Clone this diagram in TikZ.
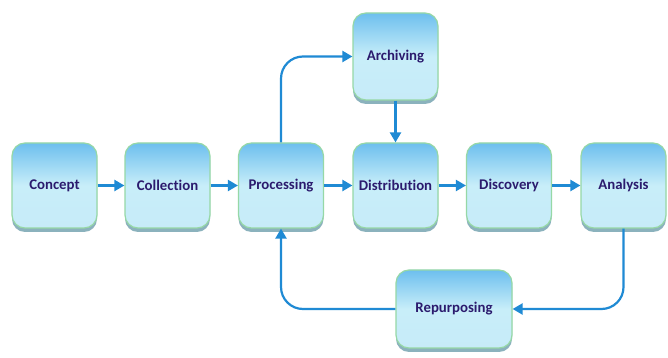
\documentclass[tikz,border=0pt]{standalone}
\usepackage{fontspec}
\setmainfont[Ligatures=NoCommon]{Carlito}
\usetikzlibrary{arrows.meta,shadows,shadings}

\definecolor{boxtop}{HTML}{6DBFEE}
\definecolor{boxmid}{HTML}{C8EEF9}
\definecolor{boxlow}{HTML}{DDF6FB}
\definecolor{boxedge}{HTML}{96D8A6}
\definecolor{boxshade}{HTML}{2D7488}
\definecolor{stagetext}{HTML}{2B1B6E}
\definecolor{flowblue}{HTML}{1F8AD4}

\tikzset{
  stage/.style={rounded corners=13pt, draw=boxedge, line width=1.2pt,
    top color=boxtop, bottom color=boxlow!80!boxtop, middle color=boxmid,
    drop shadow={shadow xshift=0pt, shadow yshift=-4pt, fill=boxshade, opacity=0.55},
    minimum width=85pt, minimum height=85pt, inner sep=0pt,
    font=\fontsize{14.8}{16}\selectfont\bfseries, text=stagetext},
  flow/.style={draw=flowblue, line width=2.2pt,
    -{Triangle[length=10pt,width=11pt]}},
}

\begin{document}
\begin{tikzpicture}[x=1pt,y=1pt]
    \useasboundingbox[fill=white] (0,0) rectangle (668,358);

    % main row of stages
    \node[stage] (concept) at (54.5,172.5) {Concept};
    \node[stage] (collection) at (167.5,172.5) {Collection};
    \node[stage] (processing) at (281,172.5) {Processing};
    \node[stage] (distribution) at (395.5,172.5) {Distribution};
    \node[stage] (discovery) at (509,172.5) {Discovery};
    \node[stage] (analysis) at (623.5,172.5) {Analysis};

    % side stages
    \node[stage, minimum height=87pt] (archiving) at (395.5,301.5) {Archiving};
    \node[stage, minimum width=116pt, minimum height=78pt] (repurposing) at (454,49) {Repurposing};

    % forward arrows
    \draw[flow] (concept) -- (collection);
    \draw[flow] (collection) -- (processing);
    \draw[flow] (processing) -- (distribution);
    \draw[flow] (distribution) -- (discovery);
    \draw[flow] (discovery) -- (analysis);

    % archive branch
    \draw[flow, rounded corners=22pt] (processing.north) |- (archiving.west);
    \draw[flow] (archiving) -- (distribution);

    % reuse loop back to processing
    \draw[flow, rounded corners=22pt] (analysis.south) |- (repurposing.east);
    \draw[flow, rounded corners=22pt] (repurposing.west) -| (processing.south);
\end{tikzpicture}
\end{document}
